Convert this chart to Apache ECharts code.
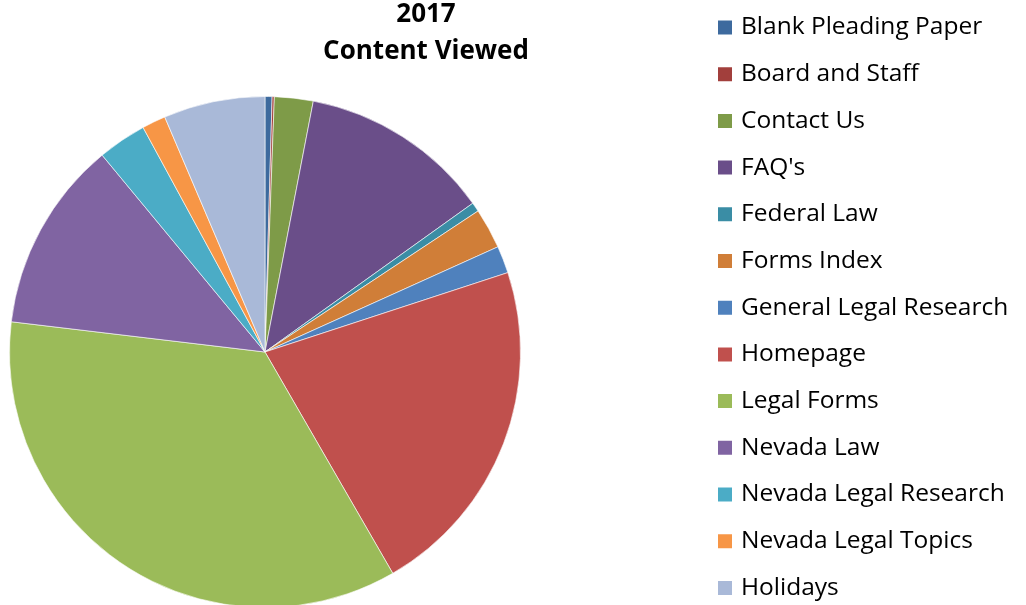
<!DOCTYPE html>
<html>
<head>
<meta charset="utf-8">
<script src="https://cdn.jsdelivr.net/npm/echarts@6/dist/echarts.min.js"></script>
<style>
  html, body { margin: 0; padding: 0; background: #fff; }
  #chart { width: 1026px; height: 605px; }
</style>
</head>
<body>
<div id="chart"></div>
<script>
// pages and their share of views
var pages = [
  "Blank Pleading Paper", "Board and Staff", "Contact Us", "FAQ's",
  "Federal Law", "Forms Index", "General Legal Research", "Homepage",
  "Legal Forms", "Nevada Law", "Nevada Legal Research",
  "Nevada Legal Topics", "Holidays"
];
var views = [1.6, 0.5, 8.8, 43.5, 2.1, 9.2, 6.2, 78.1, 126.8, 43.6, 11.1, 5.4, 23.1];
var colors = [
  "#3D6A9E", "#A23F3C", "#7E9B48", "#6A4E89", "#3A8DA5", "#D07E38",
  "#4F81BD", "#C0504D", "#9BBB59", "#8064A2", "#4BACC6", "#F79646", "#A9B9D8"
];

var chart = echarts.init(document.getElementById("chart"));
var font = "Open Sans, Liberation Sans, sans-serif";

chart.setOption({
  animation: false,
  color: colors,
  title: {
    text: "2017\nContent Viewed",
    left: 426,
    top: -4,
    padding: 0,
    textAlign: "center",
    textStyle: {
      fontFamily: font,
      fontWeight: "bold",
      fontSize: 26,
      lineHeight: 37,
      color: "#000"
    }
  },
  legend: {
    orient: "vertical",
    left: 716,
    top: 15,
    height: 640,
    padding: 0,
    icon: "rect",
    itemWidth: 16,
    itemHeight: 16,
    itemGap: 21.7,
    textStyle: {
      fontFamily: font,
      fontSize: 24.5,
      lineHeight: 24,
      color: "#000",
      padding: [0, 0, 0, 3]
    },
    data: pages
  },
  series: [
    {
      type: "pie",
      center: [265, 352],
      radius: 255.5,
      startAngle: 90,
      clockwise: true,
      label: { show: false },
      labelLine: { show: false },
      itemStyle: { borderColor: "#fff", borderWidth: 0.6 },
      emphasis: { disabled: true },
      data: pages.map(function (p, i) {
        return { name: p, value: views[i] };
      })
    }
  ]
});
</script>
</body>
</html>
